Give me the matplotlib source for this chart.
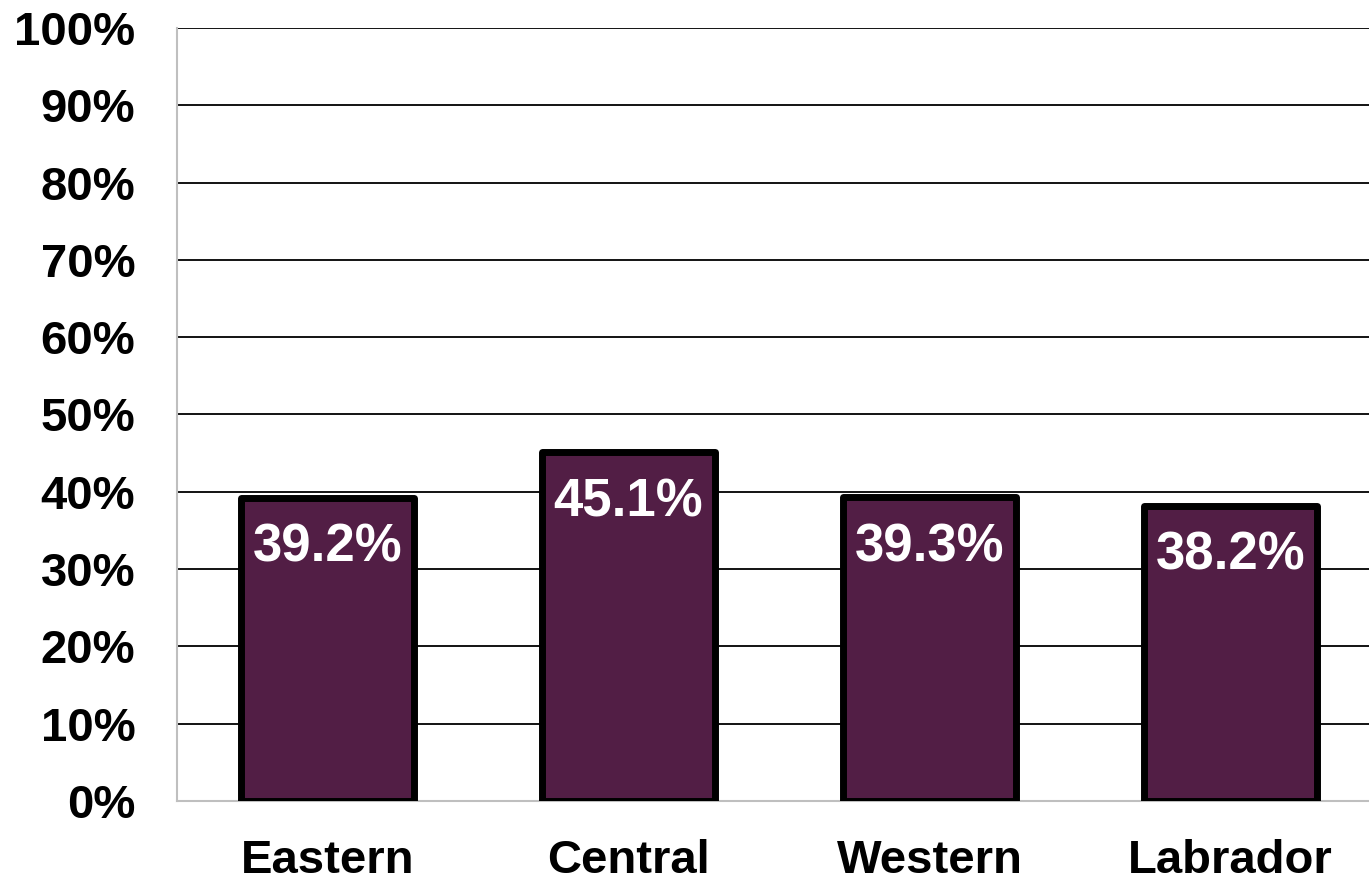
import numpy as np
import matplotlib
matplotlib.use("Agg")
import matplotlib.pyplot as plt

# Data
regions = ["Eastern", "Central", "Western", "Labrador"]
values = [39.2, 45.1, 39.3, 38.2]
yticks = [0, 10, 20, 30, 40, 50, 60, 70, 80, 90, 100]

plt.rcParams['font.family'] = ['Liberation Sans', 'DejaVu Sans']

fig = plt.figure(figsize=(13.69, 8.82), dpi=100)
ax = fig.add_axes([0.1293, 0.0918, 0.8795, 0.8765])

x = np.arange(len(regions))
bars = ax.bar(x, values, width=0.575, color='#521E45', edgecolor='black',
              linewidth=5, joinstyle='round', zorder=3)

ax.set_xlim(-0.5, 3.5)
ax.set_ylim(0, 100)
ax.set_yticks(yticks)
ax.set_yticklabels([f"{t}%" for t in yticks])
ax.set_xticks(x)
ax.set_xticklabels(regions)

ax.grid(axis='y', color='black', linewidth=1.3, zorder=0)
ax.set_axisbelow(True)
for s in ['top', 'right']:
    ax.spines[s].set_visible(False)
ax.spines['left'].set_color('#BFBFBF')
ax.spines['bottom'].set_color('#BFBFBF')
ax.spines['left'].set_linewidth(1.5)
ax.spines['bottom'].set_linewidth(1.5)

ax.tick_params(axis='y', length=0, pad=30, labelsize=34)
ax.tick_params(axis='x', length=0, pad=27, labelsize=34)
for lbl in ax.get_xticklabels() + ax.get_yticklabels():
    lbl.set_fontweight('bold')

for xi, v in zip(x, values):
    ax.annotate(f"{v}%", (xi, v), xytext=(0, -36), textcoords='offset points',
                ha='center', va='center', color='white', fontsize=38,
                fontweight='bold', zorder=4)

fig.savefig("out.png", dpi=100)
